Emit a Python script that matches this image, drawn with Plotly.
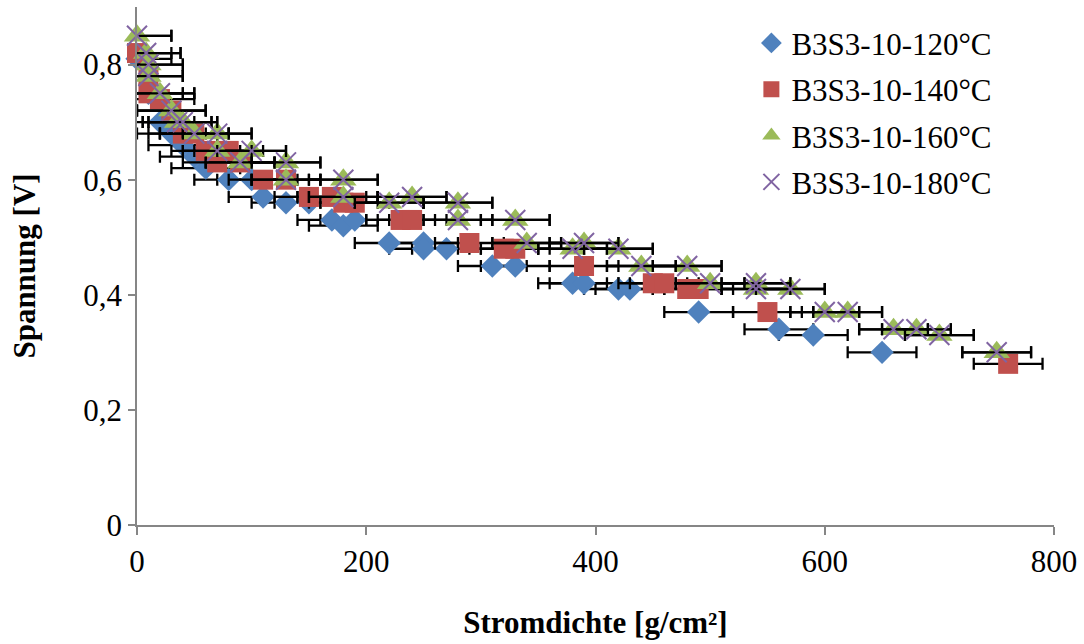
import plotly.graph_objects as go

# Stromdichte (x) und Spannung (y) je Temperatur
x120 = [0, 10, 20, 30, 40, 50, 60, 80, 100, 110, 130, 150, 170, 180, 190, 220, 250, 250, 270,
        310, 330, 380, 390, 420, 430, 490, 560, 590, 650]
y120 = [0.81, 0.75, 0.70, 0.68, 0.66, 0.64, 0.62, 0.60, 0.60, 0.57, 0.56, 0.56, 0.53, 0.52, 0.53,
        0.49, 0.49, 0.48, 0.48, 0.45, 0.45, 0.42, 0.42, 0.41, 0.41, 0.37, 0.34, 0.33, 0.30]

x140 = [0, 10, 10, 20, 30, 40, 50, 60, 70, 80, 90, 110, 130, 150, 170, 180, 190, 230, 240,
        290, 320, 330, 390, 450, 460, 480, 490, 550, 760]
y140 = [0.82, 0.78, 0.75, 0.74, 0.72, 0.68, 0.68, 0.65, 0.63, 0.65, 0.63, 0.60, 0.60, 0.57, 0.57,
        0.56, 0.56, 0.53, 0.53, 0.49, 0.48, 0.48, 0.45, 0.42, 0.42, 0.41, 0.41, 0.37, 0.28]

x160 = [0, 8, 10, 10, 20, 30, 35, 40, 50, 70, 70, 90, 100, 130, 130, 180, 180, 220, 240, 280,
        280, 330, 340, 380, 390, 420, 440, 480, 500, 540, 540, 570, 600, 620, 660, 680, 700, 750]
y160 = [0.85, 0.82, 0.80, 0.78, 0.75, 0.72, 0.70, 0.70, 0.68, 0.68, 0.65, 0.63, 0.65, 0.63, 0.60,
        0.60, 0.57, 0.56, 0.57, 0.56, 0.53, 0.53, 0.49, 0.48, 0.49, 0.48, 0.45, 0.45, 0.42, 0.42,
        0.41, 0.41, 0.37, 0.37, 0.34, 0.34, 0.33, 0.30]

x180 = [0, 8, 10, 10, 20, 30, 35, 40, 50, 70, 70, 90, 100, 130, 130, 180, 180, 220, 240, 280,
        280, 330, 340, 380, 390, 420, 440, 480, 500, 540, 540, 570, 600, 620, 660, 680, 700, 750]
y180 = [0.85, 0.82, 0.80, 0.78, 0.75, 0.72, 0.70, 0.70, 0.68, 0.68, 0.65, 0.63, 0.65, 0.63, 0.60,
        0.60, 0.57, 0.56, 0.57, 0.56, 0.53, 0.53, 0.49, 0.48, 0.49, 0.48, 0.45, 0.45, 0.42, 0.42,
        0.41, 0.41, 0.37, 0.37, 0.34, 0.34, 0.33, 0.30]

x_error = 30  # Fehler der Stromdichte (±)

names = ["B3S3-10-120°C", "B3S3-10-140°C", "B3S3-10-160°C", "B3S3-10-180°C"]
xs = [x120, x140, x160, x180]
ys = [y120, y140, y160, y180]

FONT = "Liberation Serif"
FS = 31

styles = [
    dict(symbol="diamond", size=18, color="#4F81BD"),
    dict(symbol="square", size=20, color="#C0504D"),
    dict(symbol="triangle-up", size=23, color="#9BBB59"),
    dict(symbol="x-thin", size=20, color="#8064A2", line=dict(color="#8064A2", width=2)),
]

fig = go.Figure()
for name, x, y, st in zip(names, xs, ys, styles):
    # horizontal error bars, clipped to the plot area
    fig.add_trace(go.Scatter(
        x=x, y=y, mode="markers", legendgroup=name, showlegend=False, hoverinfo="skip",
        marker=dict(size=1, opacity=0),
        error_x=dict(type="constant", value=x_error, color="black", thickness=2.3, width=6),
        cliponaxis=True,
    ))
    # markers, allowed to overlap the axes
    fig.add_trace(go.Scatter(
        x=x, y=y, mode="markers", name=name, legendgroup=name,
        marker=st, cliponaxis=False,
    ))

fig.update_layout(
    width=1084, height=644,
    margin=dict(l=137, r=26, t=7, b=119),
    paper_bgcolor="white", plot_bgcolor="white",
    separators=",.",
    font=dict(family=FONT, size=FS, color="black"),
    showlegend=True,
    legend=dict(x=0.67, y=0.982, xanchor="left", yanchor="top",
                font=dict(family=FONT, size=FS, color="black"),
                tracegroupgap=3, itemsizing="trace", itemwidth=30,
                bgcolor="rgba(0,0,0,0)"),
    xaxis=dict(
        range=[0, 800], tickvals=[0, 200, 400, 600, 800],
        showgrid=False, zeroline=False,
        showline=True, linecolor="#868686", linewidth=1.5,
        ticks="outside", ticklen=8, tickcolor="#868686", tickwidth=1.5,
        tickfont=dict(family=FONT, size=FS),
        title=dict(text="<b>Stromdichte [g/cm²]</b>", font=dict(family=FONT, size=FS), standoff=33),
    ),
    yaxis=dict(
        range=[0, 0.9], tickvals=[0, 0.2, 0.4, 0.6, 0.8], tickformat=".1~f",
        showgrid=False, zeroline=False,
        showline=True, linecolor="#868686", linewidth=1.5,
        ticks="outside", ticklen=7, tickcolor="#868686", tickwidth=1.5,
        tickfont=dict(family=FONT, size=FS),
        title=dict(text="<b>Spannung [V]</b>", font=dict(family=FONT, size=FS), standoff=38),
    ),
)

fig.write_html("out.html")
